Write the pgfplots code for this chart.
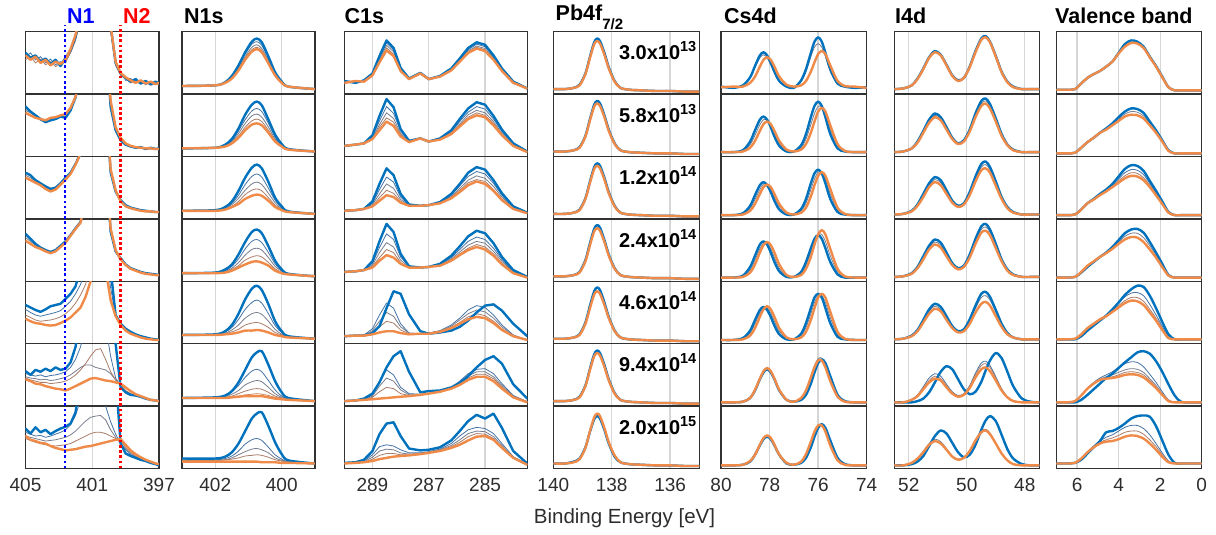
\documentclass[border=0pt]{standalone}
\usepackage{pgfplots}
\pgfplotsset{compat=1.18}
\usepackage{pgfplotstable}
\usepackage{fontspec}
\setmainfont{Liberation Sans}
\definecolor{mblue}{RGB}{0,114,189}
\definecolor{morange}{RGB}{240,138,72}
\definecolor{tA}{RGB}{70,115,165}
\definecolor{tB}{RGB}{120,125,140}
\definecolor{tC}{RGB}{170,125,105}
\definecolor{tD}{RGB}{200,140,100}
\definecolor{axc}{RGB}{50,50,50}
\definecolor{tickc}{RGB}{45,45,45}
\pgfplotsset{
  pan/.style={scale only axis, height=62.4pt, ymin=0, ymax=1, x dir=reverse,
    anchor=north west, axis line style={draw=axc, line width=1.4pt},
    ytick=\empty, xmajorgrids, grid style={draw=black!16, line width=1.3pt},
    major tick length=0pt, xticklabels={}, clip mode=individual,
    xticklabel style={font=\fontsize{19}{22}\selectfont, text=tickc, yshift=-6pt}},
  bot/.style={xticklabels={#1}},
  sm/.style={every axis plot/.append style={smooth}},
  cN/.style={pan, width=133.5pt, xmin=397, xmax=405, xtick={405,401,397}},
  cNs/.style={pan, sm, width=133pt, xmin=399, xmax=403, xtick={402,400}},
  cC/.style={pan, width=183pt, xmin=283.5, xmax=290, xtick={289,287,285}},
  cP/.style={pan, sm, width=146pt, xmin=135, xmax=140, xtick={140,138,136}},
  cS/.style={pan, sm, width=145.7pt, xmin=74, xmax=80, xtick={80,78,76,74}},
  cI/.style={pan, sm, width=145pt, xmin=47.5, xmax=52.5, xtick={52,50,48}},
  cV/.style={pan, sm, width=145.4pt, xmin=0, xmax=7, xtick={6,4,2,0}},
  bl/.style={mblue, line width=2.4pt, line join=round, line cap=round},
  orr/.style={morange, line width=2.4pt, line join=round, line cap=round},
  ta/.style={tA, line width=0.8pt},
  tb/.style={tB, line width=0.8pt},
  tc/.style={tC, line width=0.8pt},
  td/.style={tD, line width=0.8pt},
}
\newcommand\addc[3]{\addplot[#1] table[x=x,y=#2]{#3};}
\newcommand\mypanel[4]{\begin{axis}[#1,at={(#2pt,#3pt)}]#4\end{axis}}

% ---------- column 1: N 1s detail ----------
\pgfplotstableread{
x b1 t1a t1b o1 b2 t2a o2 b3 t3a o3 b4 t4a o4 b5 t5a t5b o5 b6 t6a t6b t6c o6 b7 t7a t7b t7c o7
405.0 .66 .60 .55 .62 .80 .74 .70 .74 .70 .66 .76 .70 .65 .62 .55 .46 .40 .56 .52 .47 .45 .43 .64 .58 .52 .48 .52
404.7 .58 .66 .60 .55 .72 .70 .66 .70 .66 .62 .68 .64 .60 .58 .50 .42 .36 .50 .50 .45 .42 .40 .56 .55 .50 .45 .46
404.4 .62 .55 .50 .60 .66 .64 .62 .62 .60 .58 .60 .58 .55 .54 .46 .38 .33 .58 .48 .44 .40 .36 .66 .52 .48 .42 .44
404.1 .52 .60 .56 .50 .60 .58 .60 .57 .55 .54 .54 .53 .52 .51 .44 .36 .32 .55 .50 .42 .38 .35 .58 .53 .46 .40 .41
403.8 .57 .50 .47 .55 .55 .56 .58 .52 .50 .48 .50 .49 .48 .55 .46 .37 .30 .60 .47 .43 .38 .32 .62 .50 .44 .38 .40
403.5 .48 .56 .52 .46 .58 .60 .62 .48 .46 .44 .47 .46 .45 .60 .48 .38 .29 .56 .49 .41 .36 .30 .55 .52 .45 .37 .36
403.2 .55 .47 .44 .52 .60 .62 .63 .50 .49 .47 .50 .49 .48 .62 .50 .40 .30 .62 .50 .42 .37 .28 .60 .55 .46 .36 .33
402.9 .45 .52 .50 .48 .64 .63 .66 .57 .56 .55 .57 .56 .55 .64 .53 .43 .33 .58 .52 .44 .38 .27 .64 .58 .48 .37 .31
402.6 .58 .50 .52 .55 .62 .65 .68 .66 .64 .63 .64 .63 .62 .72 .60 .48 .37 .60 .55 .46 .40 .25 .67 .62 .50 .38 .29
402.3 .70 .68 .66 .72 .74 .76 .78 .74 .73 .72 .74 .73 .73 .80 .68 .55 .42 .70 .62 .50 .44 .28 .72 .70 .54 .40 .30
402.0 .92 .88 .86 .95 .95 .94 .96 .88 .87 .87 .85 .84 .84 .92 .80 .65 .50 .95 .75 .56 .50 .32 .90 .85 .60 .44 .31
401.7 1.3 1.2 1.2 1.3 1.4 1.3 1.3 1.05 1.05 1.05 .95 .95 .94 1.2 .95 .78 .58 1.5 .95 .62 .58 .36 1.5 1.1 .68 .48 .33
401.4 2 2 2 2 2 2 2 2 2 2 1.3 1.3 1.3 2 1.2 .95 .75 2 1.3 .66 .68 .40 2 1.5 .76 .52 .35
401.1 2 2 2 2 2 2 2 2 2 2 2 2 2 2 2 1.3 1.0 2 1.7 .66 .80 .44 2 1.5 .82 .56 .36
400.8 2 2 2 2 2 2 2 2 2 2 2 2 2 2 2 2 1.4 2 2 .62 .90 .45 2 1.2 .84 .58 .38
400.5 2 2 2 2 2 2 2 2 2 2 2 2 2 2 2 2 1.6 2 1.8 .60 .92 .43 2 1.3 .85 .58 .40
400.2 2 2 2 2 2 2 2 2 2 2 2 2 2 2 1.5 1.3 1.2 2 1.3 .58 .75 .41 2 1.0 .78 .56 .42
399.9 1.1 1.0 1.05 1.1 .80 .85 .90 .75 .78 .80 .80 .82 .85 1.2 .90 .75 .70 2 .80 .52 .55 .40 2 .75 .62 .52 .44
399.6 .50 .48 .46 .52 .42 .45 .47 .44 .45 .46 .48 .49 .50 .46 .45 .44 .44 1.0 .45 .42 .42 .38 1.5 .55 .50 .48 .46
399.3 .33 .36 .30 .34 .26 .28 .30 .30 .29 .28 .37 .36 .35 .32 .30 .29 .30 .30 .32 .34 .34 .36 .40 .40 .40 .44 .47
399.0 .26 .22 .24 .27 .19 .20 .21 .22 .21 .20 .27 .26 .26 .24 .22 .21 .21 .22 .24 .24 .25 .30 .24 .30 .32 .34 .38
398.7 .20 .25 .18 .22 .16 .17 .17 .18 .18 .17 .21 .20 .20 .19 .17 .16 .16 .18 .19 .19 .20 .24 .20 .22 .24 .26 .29
398.4 .24 .18 .21 .18 .14 .15 .15 .16 .16 .15 .18 .17 .17 .15 .14 .13 .13 .17 .17 .17 .17 .19 .17 .18 .19 .20 .23
398.1 .17 .22 .16 .22 .15 .13 .14 .14 .14 .13 .15 .14 .14 .12 .11 .10 .10 .15 .15 .14 .14 .16 .14 .15 .15 .16 .18
397.8 .21 .15 .19 .17 .12 .14 .13 .13 .13 .12 .13 .12 .12 .10 .09 .09 .08 .12 .12 .12 .12 .13 .12 .12 .12 .13 .14
397.5 .16 .20 .14 .20 .14 .12 .13 .12 .12 .12 .12 .11 .11 .08 .08 .07 .07 .10 .10 .10 .10 .10 .09 .10 .09 .10 .11
397.2 .20 .15 .17 .16 .12 .13 .12 .11 .11 .11 .11 .10 .10 .07 .07 .07 .06 .09 .09 .09 .09 .09 .07 .07 .07 .07 .08
397.0 .17 .18 .15 .18 .13 .12 .12 .11 .11 .11 .10 .10 .10 .06 .06 .06 .06 .08 .08 .08 .08 .08 .05 .05 .05 .05 .07
}\tN

% ---------- column 2: N1s ----------
\pgfplotstableread[header=false]{
x 403.0 402.0 401.7 401.5 401.3 401.1 400.9 400.75 400.6 400.4 400.2 400.0 399.8 399.0
b1 .13 .14 .19 .29 .46 .67 .84 .89 .83 .60 .35 .20 .12 .08
t1a .13 .14 .19 .28 .44 .64 .80 .84 .78 .57 .33 .19 .12 .08
t1b .13 .14 .18 .27 .41 .60 .75 .79 .73 .54 .32 .19 .12 .08
t1c .13 .14 .18 .26 .40 .58 .71 .75 .70 .51 .31 .18 .12 .08
o1 .13 .14 .18 .25 .38 .55 .68 .72 .67 .49 .30 .18 .12 .08
b2 .13 .14 .19 .28 .45 .67 .83 .88 .82 .59 .35 .20 .12 .08
t2a .13 .14 .18 .26 .41 .59 .73 .77 .72 .53 .31 .18 .12 .08
t2b .13 .14 .17 .24 .37 .53 .65 .68 .63 .47 .28 .17 .12 .08
t2c .13 .14 .17 .23 .33 .47 .57 .60 .56 .42 .26 .17 .12 .08
o2 .13 .14 .16 .21 .30 .42 .51 .53 .50 .38 .24 .16 .11 .08
b3 .13 .14 .19 .28 .45 .66 .82 .87 .81 .59 .34 .20 .12 .08
t3a .13 .14 .18 .25 .38 .55 .68 .72 .67 .49 .30 .18 .12 .08
t3b .13 .14 .17 .23 .33 .46 .56 .59 .55 .41 .26 .16 .12 .08
t3c .13 .13 .16 .20 .28 .39 .46 .48 .45 .34 .22 .15 .11 .08
o3 .13 .13 .15 .19 .24 .32 .37 .39 .37 .29 .19 .14 .11 .08
b4 .13 .14 .19 .27 .43 .63 .79 .83 .77 .56 .33 .19 .12 .08
t4a .13 .14 .17 .24 .36 .52 .64 .67 .62 .46 .28 .17 .12 .08
t4b .13 .14 .16 .21 .30 .42 .51 .53 .50 .38 .24 .16 .11 .08
t4c .13 .13 .15 .19 .25 .34 .39 .41 .39 .30 .20 .14 .11 .08
o4 .13 .13 .14 .17 .22 .27 .31 .32 .30 .25 .17 .13 .11 .08
b5 .14 .15 .20 .30 .48 .71 .88 .93 .86 .63 .36 .20 .12 .08
t5a .14 .15 .19 .26 .39 .55 .66 .70 .65 .48 .29 .18 .12 .08
t5b .14 .15 .17 .22 .30 .41 .48 .50 .47 .36 .23 .15 .11 .08
t5c .14 .14 .16 .19 .23 .30 .33 .34 .32 .26 .18 .14 .11 .08
o5 .14 .14 .15 .16 .18 .21 .21 .22 .21 .18 .14 .12 .10 .08
b6 .13 .14 .17 .24 .38 .58 .78 .86 .88 .66 .40 .22 .13 .08
t6a .13 .14 .17 .23 .33 .46 .56 .59 .55 .41 .26 .16 .12 .08
t6b .13 .13 .15 .19 .25 .34 .39 .41 .39 .30 .20 .14 .11 .08
t6c .13 .13 .14 .16 .20 .24 .27 .28 .27 .22 .16 .13 .10 .08
t6d .13 .13 .14 .15 .16 .18 .19 .20 .19 .17 .14 .12 .10 .08
o6 .13 .13 .13 .14 .15 .16 .16 .16 .16 .14 .12 .11 .10 .08
b7 .16 .16 .19 .26 .40 .60 .80 .88 .90 .68 .42 .23 .13 .08
t7a .14 .14 .16 .20 .28 .39 .46 .48 .45 .34 .22 .15 .11 .08
t7b .13 .13 .14 .17 .22 .27 .31 .32 .30 .25 .17 .13 .11 .08
t7c .13 .13 .14 .15 .17 .20 .21 .22 .21 .18 .14 .12 .10 .08
o7 .11 .11 .11 .11 .11 .11 .11 .11 .10 .10 .10 .09 .09 .08
}\rNs
\pgfplotstabletranspose[colnames from=0]{\tNs}{\rNs}

% ---------- column 3: C1s ----------
\pgfplotstableread[header=false]{
x 290.0 289.6 289.3 289.0 288.75 288.5 288.25 288.0 287.7 287.3 287.0 286.6 286.2 285.9 285.6 285.3 285.0 284.7 284.4 284.0 283.5
b1 .21 .18 .22 .33 .61 .86 .74 .42 .25 .34 .24 .29 .41 .57 .74 .83 .79 .62 .41 .20 .09
t1a .19 .21 .20 .33 .59 .82 .71 .41 .26 .33 .25 .29 .40 .56 .71 .80 .76 .60 .40 .20 .09
t1b .20 .19 .21 .32 .56 .78 .68 .40 .24 .32 .23 .28 .40 .54 .69 .77 .73 .58 .38 .19 .09
t1c .18 .20 .21 .31 .54 .74 .64 .39 .24 .33 .24 .28 .39 .53 .67 .75 .71 .56 .38 .19 .09
o1 .18 .21 .20 .30 .51 .70 .61 .37 .24 .33 .24 .28 .38 .52 .66 .73 .69 .55 .37 .18 .09
b2 .17 .19 .21 .34 .65 .92 .79 .44 .25 .29 .24 .29 .42 .60 .77 .87 .83 .65 .43 .21 .08
t2a .17 .19 .21 .32 .57 .80 .69 .41 .25 .29 .24 .29 .40 .56 .71 .80 .76 .60 .40 .20 .08
t2b .17 .19 .21 .30 .51 .70 .61 .37 .24 .29 .24 .28 .39 .52 .67 .74 .70 .56 .37 .19 .08
t2c .17 .19 .21 .29 .47 .62 .55 .35 .24 .29 .24 .28 .38 .50 .63 .70 .66 .53 .35 .18 .08
o2 .17 .19 .21 .28 .42 .56 .49 .32 .23 .29 .24 .27 .36 .48 .60 .66 .63 .50 .34 .17 .07
b3 .13 .14 .16 .28 .56 .81 .70 .40 .23 .21 .22 .27 .40 .56 .74 .83 .79 .62 .41 .20 .10
t3a .13 .14 .16 .25 .47 .67 .59 .35 .22 .21 .22 .26 .38 .53 .68 .76 .72 .57 .38 .19 .10
t3b .13 .14 .16 .23 .40 .56 .49 .31 .22 .21 .22 .26 .36 .49 .62 .69 .65 .52 .35 .18 .09
t3c .13 .14 .16 .21 .34 .46 .41 .28 .21 .21 .22 .25 .35 .46 .58 .63 .60 .47 .32 .17 .09
o3 .13 .14 .16 .20 .29 .38 .35 .26 .21 .21 .22 .25 .33 .43 .54 .60 .56 .45 .30 .16 .09
b4 .15 .16 .18 .32 .64 .92 .79 .44 .24 .22 .23 .28 .41 .56 .72 .81 .77 .61 .39 .18 .07
t4a .15 .16 .18 .29 .54 .76 .67 .39 .24 .22 .23 .27 .38 .51 .64 .71 .67 .53 .35 .16 .06
t4b .15 .16 .18 .26 .46 .62 .55 .34 .23 .22 .23 .26 .36 .47 .58 .64 .61 .48 .32 .15 .06
t4c .15 .16 .18 .24 .38 .51 .46 .30 .22 .22 .23 .26 .34 .44 .53 .59 .55 .44 .29 .14 .06
o4 .15 .16 .18 .22 .33 .42 .38 .28 .22 .22 .23 .25 .33 .42 .50 .55 .51 .41 .27 .13 .06
b5 .12 .13 .13 .17 .28 .57 .84 .80 .47 .20 .16 .18 .21 .27 .37 .50 .61 .63 .53 .32 .12
t5a .12 .13 .14 .24 .46 .65 .57 .32 .17 .16 .17 .21 .30 .41 .54 .61 .58 .46 .30 .14 .06
t5b .12 .13 .13 .21 .36 .50 .44 .27 .17 .16 .17 .20 .28 .38 .48 .54 .51 .41 .27 .13 .06
t5c .12 .13 .13 .18 .27 .36 .33 .22 .16 .16 .17 .20 .26 .34 .43 .48 .45 .36 .24 .12 .06
o5 .12 .13 .13 .15 .18 .20 .20 .17 .15 .16 .16 .19 .25 .32 .39 .43 .41 .33 .22 .12 .06
b6 .08 .09 .12 .20 .38 .62 .80 .88 .55 .22 .24 .25 .30 .37 .48 .62 .74 .80 .68 .35 .12
t6a .08 .09 .11 .18 .40 .58 .50 .30 .20 .19 .20 .23 .30 .40 .52 .59 .60 .52 .36 .17 .07
t6b .08 .09 .10 .16 .32 .45 .40 .26 .18 .18 .20 .23 .29 .38 .48 .55 .55 .47 .33 .16 .07
t6c .08 .09 .10 .14 .23 .30 .28 .20 .17 .18 .20 .23 .28 .36 .45 .51 .51 .44 .31 .15 .06
o6 .08 .09 .10 .11 .12 .13 .14 .15 .16 .18 .20 .23 .28 .34 .42 .47 .47 .40 .28 .14 .06
b7 .09 .10 .14 .28 .55 .72 .74 .52 .32 .29 .30 .34 .45 .60 .76 .86 .80 .88 .65 .28 .08
t7a .08 .09 .12 .22 .35 .38 .36 .30 .25 .25 .27 .31 .40 .52 .62 .66 .64 .56 .40 .19 .07
t7b .08 .09 .11 .18 .28 .31 .30 .25 .23 .24 .26 .30 .37 .46 .56 .60 .59 .51 .37 .18 .06
t7c .08 .09 .10 .15 .21 .24 .24 .22 .22 .23 .26 .29 .35 .42 .51 .56 .55 .48 .35 .17 .06
o7 .08 .09 .10 .12 .15 .17 .19 .20 .21 .23 .25 .28 .33 .38 .45 .51 .52 .46 .33 .17 .06
}\rC
\pgfplotstabletranspose[colnames from=0]{\tC}{\rC}

% ---------- column 4: Pb4f ----------
\pgfplotstableread[header=false]{
x 140 139.6 139.3 139.1 138.9 138.75 138.6 138.5 138.4 138.25 138.1 137.9 137.7 137.4 137.0 136.5 136.0 135.5 135.0
o .08 .08 .10 .14 .32 .57 .80 .85 .81 .63 .41 .20 .10 .07 .06 .05 .05 .04 .04
b .08 .08 .10 .15 .33 .59 .83 .89 .85 .66 .43 .21 .10 .07 .06 .05 .05 .04 .04
bb .08 .08 .10 .15 .34 .60 .84 .90 .86 .66 .43 .21 .10 .07 .06 .05 .05 .04 .04
oo .08 .08 .10 .14 .32 .56 .79 .84 .80 .62 .41 .20 .10 .07 .06 .05 .05 .04 .04
bs .08 .08 .11 .16 .34 .58 .79 .84 .80 .62 .40 .19 .10 .07 .06 .05 .05 .04 .04
os .08 .08 .10 .15 .33 .59 .82 .88 .84 .65 .42 .21 .10 .07 .06 .05 .05 .04 .04
}\rP
\pgfplotstabletranspose[colnames from=0]{\tP}{\rP}

% ---------- column 5: Cs4d ----------
\pgfplotstableread[header=false]{
x 80.0 79.5 79.1 78.8 78.6 78.4 78.25 78.1 77.95 77.8 77.6 77.3 77.0 76.7 76.5 76.3 76.15 76.0 75.85 75.7 75.5 75.2 74.9 74.5 74.0
b1 .12 .10 .14 .27 .45 .62 .67 .62 .50 .36 .21 .12 .10 .22 .40 .66 .84 .91 .84 .66 .40 .17 .12 .10 .11
t1 .11 .11 .14 .26 .43 .58 .63 .58 .47 .34 .20 .12 .11 .20 .36 .60 .75 .81 .75 .60 .36 .16 .12 .11 .11
o1 .11 .12 .12 .18 .28 .44 .55 .59 .55 .44 .28 .15 .12 .14 .21 .36 .51 .64 .69 .64 .46 .21 .13 .12 .10
b2 .07 .07 .10 .24 .42 .59 .64 .59 .47 .32 .17 .08 .08 .18 .36 .63 .81 .88 .81 .63 .36 .13 .08 .07 .07
t2 .07 .07 .09 .19 .34 .51 .59 .58 .50 .37 .21 .10 .08 .14 .28 .51 .69 .80 .80 .68 .43 .17 .08 .07 .07
o2 .07 .07 .08 .14 .25 .41 .52 .56 .52 .41 .25 .11 .08 .11 .20 .38 .56 .72 .78 .72 .50 .20 .09 .07 .07
b3 .06 .06 .09 .21 .38 .54 .59 .54 .43 .29 .15 .07 .07 .16 .32 .57 .73 .79 .73 .57 .32 .11 .07 .06 .06
t3 .06 .06 .08 .17 .31 .47 .56 .56 .48 .35 .20 .09 .07 .13 .25 .47 .64 .75 .75 .63 .40 .15 .07 .06 .06
o3 .06 .06 .07 .13 .24 .40 .51 .55 .51 .40 .24 .10 .07 .10 .18 .36 .54 .69 .75 .69 .48 .18 .08 .06 .06
b4 .06 .06 .09 .23 .41 .59 .64 .59 .46 .31 .16 .07 .07 .15 .31 .53 .68 .74 .68 .53 .31 .11 .06 .06 .06
t4 .06 .06 .08 .18 .34 .52 .61 .61 .52 .38 .21 .09 .07 .13 .26 .46 .64 .75 .75 .64 .41 .15 .07 .06 .06
o4 .06 .06 .07 .14 .27 .46 .58 .63 .58 .46 .27 .10 .07 .10 .20 .39 .59 .75 .82 .75 .52 .20 .08 .06 .06
b5 .06 .06 .09 .21 .38 .54 .59 .54 .43 .29 .15 .07 .07 .16 .33 .57 .74 .80 .74 .57 .33 .11 .07 .06 .06
t5 .06 .06 .08 .17 .32 .49 .57 .57 .49 .36 .20 .09 .07 .13 .26 .48 .66 .77 .77 .66 .42 .15 .07 .06 .06
o5 .06 .06 .07 .13 .25 .43 .55 .60 .55 .43 .25 .10 .07 .10 .19 .38 .57 .74 .80 .74 .51 .19 .08 .06 .06
b6 .06 .06 .07 .13 .25 .43 .54 .59 .54 .43 .25 .10 .07 .10 .18 .36 .54 .69 .75 .69 .48 .18 .08 .06 .06
t6 .06 .06 .07 .13 .26 .44 .56 .61 .56 .44 .26 .10 .07 .13 .26 .48 .65 .76 .77 .66 .43 .16 .07 .06 .06
o6 .06 .06 .07 .13 .26 .44 .56 .61 .56 .44 .26 .10 .07 .13 .25 .46 .62 .73 .73 .62 .40 .15 .07 .06 .06
b7 .05 .05 .06 .11 .22 .37 .47 .51 .47 .37 .22 .08 .06 .09 .17 .34 .51 .65 .71 .65 .45 .17 .07 .05 .05
t7 .05 .05 .06 .12 .22 .38 .48 .52 .48 .38 .22 .09 .06 .10 .21 .40 .57 .69 .71 .61 .40 .15 .06 .05 .05
o7 .05 .05 .06 .12 .22 .38 .49 .53 .49 .38 .22 .09 .06 .11 .23 .43 .59 .69 .69 .59 .37 .13 .06 .05 .05
}\rS
\pgfplotstabletranspose[colnames from=0]{\tS}{\rS}

% ---------- column 6: I4d ----------
\pgfplotstableread[header=false]{
x 52.5 52.2 51.9 51.7 51.5 51.3 51.1 50.9 50.7 50.5 50.3 50.1 49.9 49.7 49.5 49.35 49.2 49.0 48.8 48.6 48.4 48.1 47.8 47.5
b1 .08 .09 .14 .25 .41 .59 .69 .63 .47 .30 .22 .26 .44 .69 .89 .93 .84 .61 .36 .20 .12 .08 .08 .08
o1 .08 .09 .14 .24 .40 .58 .67 .62 .46 .29 .21 .26 .43 .67 .87 .91 .83 .60 .35 .19 .11 .08 .08 .08
b2 .07 .08 .13 .24 .41 .59 .69 .63 .47 .30 .21 .26 .43 .69 .89 .93 .84 .61 .36 .19 .11 .07 .07 .07
t2 .07 .08 .13 .23 .39 .57 .66 .61 .45 .29 .21 .25 .42 .66 .85 .89 .81 .58 .34 .18 .10 .07 .07 .07
o2 .07 .08 .13 .22 .38 .54 .63 .58 .43 .28 .20 .24 .40 .63 .81 .85 .77 .56 .33 .18 .10 .07 .07 .07
b3 .07 .08 .13 .23 .40 .57 .67 .62 .46 .29 .21 .25 .43 .68 .88 .92 .83 .60 .35 .19 .11 .07 .07 .07
t3 .07 .08 .13 .22 .37 .54 .63 .58 .43 .28 .20 .24 .41 .64 .83 .87 .79 .57 .33 .18 .10 .07 .07 .07
o3 .07 .08 .12 .21 .35 .51 .59 .54 .40 .26 .19 .23 .38 .60 .78 .81 .74 .53 .32 .17 .10 .07 .07 .07
b5 .07 .08 .13 .22 .38 .55 .64 .59 .44 .28 .20 .23 .39 .61 .80 .83 .75 .54 .32 .17 .10 .07 .07 .07
t5 .07 .08 .12 .21 .36 .52 .60 .55 .41 .26 .19 .22 .36 .57 .74 .77 .70 .51 .30 .16 .10 .07 .07 .07
o5 .07 .08 .12 .20 .34 .48 .56 .52 .38 .25 .18 .20 .32 .50 .64 .67 .61 .44 .27 .15 .10 .07 .07 .07
b6 .06 .06 .06 .08 .12 .22 .38 .55 .64 .59 .43 .27 .19 .23 .39 .57 .73 .85 .77 .55 .32 .12 .07 .06
t6a .06 .06 .11 .18 .31 .45 .52 .48 .35 .23 .17 .20 .33 .53 .69 .72 .65 .47 .28 .15 .09 .06 .06 .06
t6b .06 .06 .10 .17 .29 .41 .48 .44 .33 .21 .16 .19 .31 .50 .65 .68 .62 .45 .27 .14 .09 .06 .06 .06
o6 .06 .06 .10 .16 .27 .38 .44 .41 .30 .20 .15 .18 .29 .46 .59 .62 .56 .41 .25 .14 .08 .06 .06 .06
b7 .05 .05 .07 .11 .20 .36 .52 .61 .56 .41 .26 .18 .22 .38 .62 .77 .84 .76 .54 .31 .16 .07 .05 .05
t7 .05 .05 .09 .16 .28 .40 .47 .43 .32 .20 .15 .18 .29 .46 .60 .63 .57 .41 .24 .13 .07 .05 .05 .05
o7 .05 .05 .09 .16 .26 .38 .44 .40 .30 .19 .14 .17 .28 .45 .58 .61 .55 .40 .24 .13 .07 .05 .05 .05
}\rI
\pgfplotstabletranspose[colnames from=0]{\tI}{\rI}

% ---------- column 7: valence band ----------
\pgfplotstableread[header=false]{
x 7.0 6.5 6.1 5.8 5.5 5.2 4.9 4.6 4.3 4.0 3.7 3.4 3.1 2.8 2.5 2.2 1.9 1.6 1.3 1.0 0.5 0.0
b1 .07 .07 .08 .17 .26 .32 .37 .44 .52 .66 .80 .86 .84 .76 .60 .45 .28 .11 .06 .06 .06 .06
o1 .07 .07 .08 .17 .26 .32 .37 .44 .52 .65 .76 .82 .81 .74 .59 .44 .27 .11 .06 .06 .06 .06
b2 .05 .05 .06 .14 .23 .30 .38 .45 .53 .63 .72 .77 .76 .70 .56 .42 .26 .10 .05 .05 .05 .05
t2 .05 .05 .06 .14 .23 .30 .38 .44 .51 .60 .68 .72 .71 .65 .53 .40 .25 .10 .05 .05 .05 .05
o2 .05 .05 .06 .14 .23 .30 .38 .43 .50 .57 .64 .67 .66 .61 .50 .38 .24 .09 .05 .05 .05 .05
b3 .06 .06 .07 .15 .25 .32 .40 .47 .56 .68 .80 .86 .85 .77 .61 .45 .28 .11 .06 .06 .06 .06
t3a .06 .06 .07 .15 .25 .32 .39 .46 .54 .64 .74 .79 .78 .71 .57 .42 .26 .10 .06 .06 .06 .06
t3b .06 .06 .07 .15 .25 .31 .38 .45 .52 .61 .69 .74 .73 .66 .54 .40 .25 .10 .06 .06 .06 .06
o3 .06 .06 .07 .15 .25 .31 .38 .44 .51 .58 .65 .69 .68 .62 .51 .38 .24 .10 .06 .06 .06 .06
b4 .06 .06 .07 .14 .23 .31 .39 .46 .55 .66 .77 .83 .84 .78 .63 .46 .28 .10 .06 .06 .06 .06
t4 .06 .06 .07 .15 .24 .31 .39 .46 .54 .63 .72 .77 .77 .70 .57 .42 .26 .10 .06 .06 .06 .06
o4 .06 .06 .07 .15 .25 .32 .39 .45 .52 .60 .67 .71 .70 .63 .51 .38 .23 .09 .06 .06 .06 .06
b5 .07 .07 .07 .12 .21 .29 .37 .45 .55 .66 .78 .87 .93 .91 .77 .57 .35 .15 .07 .07 .07 .07
t5a .07 .07 .08 .15 .25 .32 .39 .46 .55 .65 .75 .81 .82 .77 .63 .46 .28 .11 .07 .07 .07 .07
t5b .07 .07 .08 .15 .25 .32 .39 .45 .53 .61 .69 .74 .74 .68 .55 .41 .25 .10 .07 .07 .07 .07
o5 .07 .07 .08 .15 .25 .32 .39 .44 .51 .58 .65 .69 .68 .62 .50 .37 .22 .09 .07 .07 .07 .07
b6 .06 .06 .06 .10 .18 .27 .36 .45 .52 .61 .70 .78 .86 .88 .84 .72 .55 .35 .17 .07 .06 .06
t6a .06 .06 .08 .17 .29 .38 .45 .50 .55 .62 .68 .71 .70 .63 .51 .38 .23 .10 .06 .06 .06 .06
t6b .06 .06 .08 .17 .28 .37 .43 .47 .50 .54 .58 .60 .59 .54 .44 .33 .20 .09 .06 .06 .06 .06
t6c .06 .06 .08 .17 .28 .36 .42 .45 .47 .50 .54 .55 .54 .50 .41 .31 .19 .08 .06 .06 .06 .06
o6 .06 .06 .08 .17 .28 .36 .42 .44 .45 .47 .50 .51 .50 .46 .38 .29 .18 .08 .06 .06 .06 .06
b7 .08 .08 .09 .14 .24 .34 .44 .58 .60 .65 .72 .80 .84 .85 .83 .68 .45 .22 .09 .08 .08 .08
t7a .08 .08 .09 .16 .27 .36 .44 .50 .54 .60 .66 .69 .69 .64 .54 .40 .25 .12 .08 .08 .08 .08
t7b .08 .08 .09 .16 .26 .35 .42 .46 .49 .53 .58 .60 .60 .55 .46 .35 .22 .11 .08 .08 .08 .08
o7 .08 .08 .09 .16 .26 .34 .40 .43 .44 .47 .51 .53 .52 .48 .40 .30 .19 .10 .08 .08 .08 .08
}\rV
\pgfplotstabletranspose[colnames from=0]{\tV}{\rV}

\begin{document}
\begin{tikzpicture}
\path[use as bounding box] (0,0) rectangle (1216pt,535pt);
% ===== column 1 =====
\mypanel{cN}{25.5}{503.3}{\addc{ta}{t1a}{\tN}\addc{tc}{t1b}{\tN}\addc{bl}{b1}{\tN}\addc{orr}{o1}{\tN}}
\mypanel{cN}{25.5}{440.9}{\addc{tb}{t2a}{\tN}\addc{bl}{b2}{\tN}\addc{orr}{o2}{\tN}}
\mypanel{cN}{25.5}{378.5}{\addc{tb}{t3a}{\tN}\addc{bl}{b3}{\tN}\addc{orr}{o3}{\tN}}
\mypanel{cN}{25.5}{316.1}{\addc{tb}{t4a}{\tN}\addc{bl}{b4}{\tN}\addc{orr}{o4}{\tN}}
\mypanel{cN}{25.5}{253.7}{\addc{ta}{t5a}{\tN}\addc{tc}{t5b}{\tN}\addc{bl}{b5}{\tN}\addc{orr}{o5}{\tN}}
\mypanel{cN}{25.5}{191.3}{\addc{ta}{t6a}{\tN}\addc{tb}{t6b}{\tN}\addc{tc}{t6c}{\tN}\addc{bl}{b6}{\tN}\addc{orr}{o6}{\tN}}
\mypanel{cN,bot={405,401,397}}{25.5}{128.9}{\addc{ta}{t7a}{\tN}\addc{tb}{t7b}{\tN}\addc{tc}{t7c}{\tN}\addc{bl}{b7}{\tN}\addc{orr}{o7}{\tN}}
% ===== column 2 =====
\mypanel{cNs}{182}{503.3}{\addc{ta}{t1a}{\tNs}\addc{tb}{t1b}{\tNs}\addc{tc}{t1c}{\tNs}\addc{bl}{b1}{\tNs}\addc{orr}{o1}{\tNs}}
\mypanel{cNs}{182}{440.9}{\addc{ta}{t2a}{\tNs}\addc{tb}{t2b}{\tNs}\addc{tc}{t2c}{\tNs}\addc{bl}{b2}{\tNs}\addc{orr}{o2}{\tNs}}
\mypanel{cNs}{182}{378.5}{\addc{ta}{t3a}{\tNs}\addc{tb}{t3b}{\tNs}\addc{tc}{t3c}{\tNs}\addc{bl}{b3}{\tNs}\addc{orr}{o3}{\tNs}}
\mypanel{cNs}{182}{316.1}{\addc{ta}{t4a}{\tNs}\addc{tb}{t4b}{\tNs}\addc{tc}{t4c}{\tNs}\addc{bl}{b4}{\tNs}\addc{orr}{o4}{\tNs}}
\mypanel{cNs}{182}{253.7}{\addc{ta}{t5a}{\tNs}\addc{tb}{t5b}{\tNs}\addc{tc}{t5c}{\tNs}\addc{bl}{b5}{\tNs}\addc{orr}{o5}{\tNs}}
\mypanel{cNs}{182}{191.3}{\addc{ta}{t6a}{\tNs}\addc{tb}{t6b}{\tNs}\addc{tc}{t6c}{\tNs}\addc{td}{t6d}{\tNs}\addc{bl}{b6}{\tNs}\addc{orr}{o6}{\tNs}}
\mypanel{cNs,bot={402,400}}{182}{128.9}{\addc{ta}{t7a}{\tNs}\addc{tb}{t7b}{\tNs}\addc{tc}{t7c}{\tNs}\addc{bl}{b7}{\tNs}\addc{orr}{o7}{\tNs}}
% ===== column 3 =====
\mypanel{cC}{344.3}{503.3}{\addc{ta}{t1a}{\tC}\addc{tb}{t1b}{\tC}\addc{tc}{t1c}{\tC}\addc{bl}{b1}{\tC}\addc{orr}{o1}{\tC}}
\mypanel{cC}{344.3}{440.9}{\addc{ta}{t2a}{\tC}\addc{tb}{t2b}{\tC}\addc{tc}{t2c}{\tC}\addc{bl}{b2}{\tC}\addc{orr}{o2}{\tC}}
\mypanel{cC}{344.3}{378.5}{\addc{ta}{t3a}{\tC}\addc{tb}{t3b}{\tC}\addc{tc}{t3c}{\tC}\addc{bl}{b3}{\tC}\addc{orr}{o3}{\tC}}
\mypanel{cC}{344.3}{316.1}{\addc{ta}{t4a}{\tC}\addc{tb}{t4b}{\tC}\addc{tc}{t4c}{\tC}\addc{bl}{b4}{\tC}\addc{orr}{o4}{\tC}}
\mypanel{cC}{344.3}{253.7}{\addc{ta}{t5a}{\tC}\addc{tb}{t5b}{\tC}\addc{tc}{t5c}{\tC}\addc{bl}{b5}{\tC}\addc{orr}{o5}{\tC}}
\mypanel{cC}{344.3}{191.3}{\addc{ta}{t6a}{\tC}\addc{tb}{t6b}{\tC}\addc{tc}{t6c}{\tC}\addc{bl}{b6}{\tC}\addc{orr}{o6}{\tC}}
\mypanel{cC,bot={289,287,285}}{344.3}{128.9}{\addc{ta}{t7a}{\tC}\addc{tb}{t7b}{\tC}\addc{tc}{t7c}{\tC}\addc{bl}{b7}{\tC}\addc{orr}{o7}{\tC}}
% ===== column 4 =====
\mypanel{cP}{553.3}{503.3}{\addc{bl}{b}{\tP}\addc{orr}{o}{\tP}}
\mypanel{cP}{553.3}{440.9}{\addc{bl}{b}{\tP}\addc{orr}{o}{\tP}}
\mypanel{cP}{553.3}{378.5}{\addc{bl}{b}{\tP}\addc{orr}{o}{\tP}}
\mypanel{cP}{553.3}{316.1}{\addc{bl}{bb}{\tP}\addc{orr}{o}{\tP}}
\mypanel{cP}{553.3}{253.7}{\addc{bl}{bb}{\tP}\addc{orr}{oo}{\tP}}
\mypanel{cP}{553.3}{191.3}{\addc{bl}{b}{\tP}\addc{orr}{o}{\tP}}
\mypanel{cP,bot={140,138,136}}{553.3}{128.9}{\addc{bl}{bs}{\tP}\addc{orr}{os}{\tP}}
% ===== column 5 =====
\mypanel{cS}{721}{503.3}{\addc{tb}{t1}{\tS}\addc{bl}{b1}{\tS}\addc{orr}{o1}{\tS}}
\mypanel{cS}{721}{440.9}{\addc{tb}{t2}{\tS}\addc{bl}{b2}{\tS}\addc{orr}{o2}{\tS}}
\mypanel{cS}{721}{378.5}{\addc{tb}{t3}{\tS}\addc{bl}{b3}{\tS}\addc{orr}{o3}{\tS}}
\mypanel{cS}{721}{316.1}{\addc{tb}{t4}{\tS}\addc{bl}{b4}{\tS}\addc{orr}{o4}{\tS}}
\mypanel{cS}{721}{253.7}{\addc{tb}{t5}{\tS}\addc{bl}{b5}{\tS}\addc{orr}{o5}{\tS}}
\mypanel{cS}{721}{191.3}{\addc{tb}{t6}{\tS}\addc{bl}{b6}{\tS}\addc{orr}{o6}{\tS}}
\mypanel{cS,bot={80,78,76,74}}{721}{128.9}{\addc{tb}{t7}{\tS}\addc{bl}{b7}{\tS}\addc{orr}{o7}{\tS}}
% ===== column 6 =====
\mypanel{cI}{894.3}{503.3}{\addc{bl}{b1}{\tI}\addc{orr}{o1}{\tI}}
\mypanel{cI}{894.3}{440.9}{\addc{tb}{t2}{\tI}\addc{bl}{b2}{\tI}\addc{orr}{o2}{\tI}}
\mypanel{cI}{894.3}{378.5}{\addc{tb}{t3}{\tI}\addc{bl}{b3}{\tI}\addc{orr}{o3}{\tI}}
\mypanel{cI}{894.3}{316.1}{\addc{tb}{t3}{\tI}\addc{bl}{b3}{\tI}\addc{orr}{o3}{\tI}}
\mypanel{cI}{894.3}{253.7}{\addc{tb}{t5}{\tI}\addc{bl}{b5}{\tI}\addc{orr}{o5}{\tI}}
\mypanel{cI}{894.3}{191.3}{\addc{ta}{t6a}{\tI}\addc{tc}{t6b}{\tI}\addc{bl}{b6}{\tI}\addc{orr}{o6}{\tI}}
\mypanel{cI,bot={52,50,48}}{894.3}{128.9}{\addc{tb}{t7}{\tI}\addc{bl}{b7}{\tI}\addc{orr}{o7}{\tI}}
% ===== column 7 =====
\mypanel{cV}{1056.3}{503.3}{\addc{bl}{b1}{\tV}\addc{orr}{o1}{\tV}}
\mypanel{cV}{1056.3}{440.9}{\addc{tb}{t2}{\tV}\addc{bl}{b2}{\tV}\addc{orr}{o2}{\tV}}
\mypanel{cV}{1056.3}{378.5}{\addc{ta}{t3a}{\tV}\addc{tc}{t3b}{\tV}\addc{bl}{b3}{\tV}\addc{orr}{o3}{\tV}}
\mypanel{cV}{1056.3}{316.1}{\addc{tb}{t4}{\tV}\addc{bl}{b4}{\tV}\addc{orr}{o4}{\tV}}
\mypanel{cV}{1056.3}{253.7}{\addc{ta}{t5a}{\tV}\addc{tc}{t5b}{\tV}\addc{bl}{b5}{\tV}\addc{orr}{o5}{\tV}}
\mypanel{cV}{1056.3}{191.3}{\addc{ta}{t6a}{\tV}\addc{tb}{t6b}{\tV}\addc{tc}{t6c}{\tV}\addc{bl}{b6}{\tV}\addc{orr}{o6}{\tV}}
\mypanel{cV,bot={6,4,2,0}}{1056.3}{128.9}{\addc{ta}{t7a}{\tV}\addc{tc}{t7b}{\tV}\addc{bl}{b7}{\tV}\addc{orr}{o7}{\tV}}
% ===== N1 / N2 marker lines =====
\begin{axis}[scale only axis, width=133.5pt, height=443.5pt, at={(25.5pt,510pt)}, anchor=north west,
  xmin=397, xmax=405, x dir=reverse, ymin=0, ymax=1, hide axis, clip=false]
\addplot[color={rgb,255:red,0;green,0;blue,255}, line width=2.6pt, dash pattern=on 2.6pt off 2.6pt] coordinates {(402.63,0) (402.63,1)};
\addplot[color={rgb,255:red,255;green,0;blue,0}, line width=2.6pt, dash pattern=on 2.6pt off 2.6pt] coordinates {(399.32,0) (399.32,1)};
\end{axis}
% ===== titles and labels =====
\begin{scope}[every node/.style={inner sep=0pt, anchor=base west, font=\bfseries\fontsize{21.5}{24}\selectfont}]
\node[text={rgb,255:red,0;green,0;blue,255}] at (67pt,511pt) {N1};
\node[text={rgb,255:red,255;green,0;blue,0}] at (123pt,511pt) {N2};
\node at (184pt,511pt) {N1s};
\node at (344.5pt,511pt) {C1s};
\node at (555.5pt,514.3pt) {Pb4f\raisebox{-9pt}{\fontsize{15}{15}\selectfont 7/2}};
\node at (724pt,511pt) {Cs4d};
\node at (895pt,511pt) {I4d};
\node at (1055pt,511pt) {Valence band};
\end{scope}
\begin{scope}[every node/.style={inner sep=0pt, anchor=base east, font=\bfseries\fontsize{20}{24}\selectfont}]
\node at (696.5pt,475pt) {3.0x10\raisebox{8pt}{\fontsize{14.5}{15}\selectfont 13}};
\node at (696.5pt,412.6pt) {5.8x10\raisebox{8pt}{\fontsize{14.5}{15}\selectfont 13}};
\node at (696.5pt,350.2pt) {1.2x10\raisebox{8pt}{\fontsize{14.5}{15}\selectfont 14}};
\node at (696.5pt,287.8pt) {2.4x10\raisebox{8pt}{\fontsize{14.5}{15}\selectfont 14}};
\node at (696.5pt,225.4pt) {4.6x10\raisebox{8pt}{\fontsize{14.5}{15}\selectfont 14}};
\node at (696.5pt,163pt) {9.4x10\raisebox{8pt}{\fontsize{14.5}{15}\selectfont 14}};
\node at (696.5pt,100.6pt) {2.0x10\raisebox{8pt}{\fontsize{14.5}{15}\selectfont 15}};
\end{scope}
\node[inner sep=0pt, anchor=base, font=\fontsize{20.5}{24}\selectfont, text=tickc] at (624.5pt,11.7pt) {Binding Energy [eV]};
\end{tikzpicture}
\end{document}
